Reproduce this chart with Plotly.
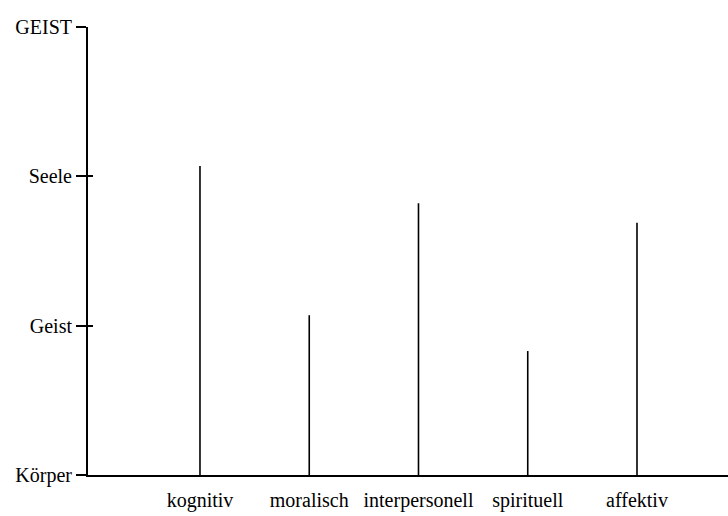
import plotly.graph_objects as go

categories = ["kognitiv", "moralisch", "interpersonell", "spirituell", "affektiv"]
values = [2.07, 1.07, 1.82, 0.83, 1.69]
y_tick_labels = ["Körper", "Geist", "Seele", "GEIST"]
y_tick_values = [0, 1, 2, 3]

xpos = list(range(1, len(categories) + 1))
xs, ys = [], []
for x, v in zip(xpos, values):
    xs += [x, x, None]
    ys += [0, v, None]

FONT = "Liberation Serif"

fig = go.Figure()
fig.add_trace(go.Scatter(x=xs, y=ys, mode="lines",
                         line=dict(color="black", width=1.6),
                         showlegend=False, hoverinfo="skip"))

fig.update_layout(
    width=728, height=516,
    margin=dict(l=88, r=0, t=27, b=41, autoexpand=False),
    paper_bgcolor="white", plot_bgcolor="white",
    font=dict(family=FONT, size=20, color="black"),
    xaxis=dict(
        range=[-0.025, 5.833], automargin=False,
        tickmode="array", tickvals=xpos, ticktext=categories,
        showgrid=False, zeroline=False,
        showline=True, linecolor="black", linewidth=2,
        ticks="", ticklabelstandoff=6,
    ),
    yaxis=dict(
        range=[0, 3], automargin=False,
        tickmode="array", tickvals=y_tick_values, ticktext=y_tick_labels,
        showgrid=False, zeroline=False,
        showline=True, linecolor="black", linewidth=2,
        ticks="outside", ticklen=10, tickwidth=1.5, tickcolor="black",
    ),
    yaxis2=dict(
        range=[0, 3], overlaying="y", side="left", anchor="x", automargin=False,
        tickmode="array", tickvals=y_tick_values,
        showticklabels=False, showgrid=False, zeroline=False,
        showline=False,
        ticks="inside", ticklen=5, tickwidth=1.5, tickcolor="black",
    ),
)
fig.add_trace(go.Scatter(x=[None], y=[None], yaxis="y2", showlegend=False, hoverinfo="skip"))

fig.write_html(
    "out.html",
    config={"displayModeBar": False},
    post_script="document.body.style.margin='0';document.body.style.overflow='hidden';",
)
